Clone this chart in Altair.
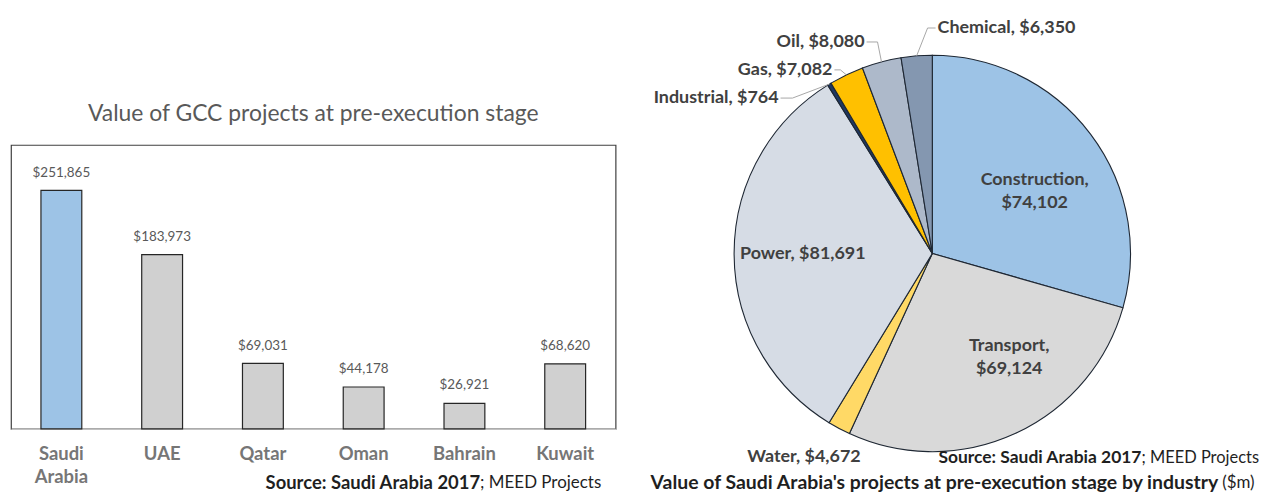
import math
import altair as alt
import pandas as pd

# ---------------- data ----------------
countries = ["Saudi Arabia", "UAE", "Qatar", "Oman", "Bahrain", "Kuwait"]
country_values = [251865, 183973, 69031, 44178, 26921, 68620]
country_value_labels = ["$251,865", "$183,973", "$69,031", "$44,178", "$26,921", "$68,620"]

industries = ["Construction", "Transport", "Water", "Power", "Industrial", "Gas", "Oil", "Chemical"]
industry_values = [74102, 69124, 4672, 81691, 764, 7082, 8080, 6350]
industry_labels = ["Construction,\n$74,102", "Transport,\n$69,124", "Water, $4,672",
                   "Power, $81,691", "Industrial, $764", "Gas, $7,082", "Oil, $8,080",
                   "Chemical, $6,350"]

bar_title = "Value of GCC projects at pre-execution stage"
pie_title_bold = "Value of Saudi Arabia's projects at pre-execution stage by industry"
pie_title_normal = "($m)"
source_bold = "Source: Saudi Arabia 2017"
source_normal = "; MEED Projects"

# ---------------- styles ----------------
FONT = "Lato"
BAR_COLORS = ["#9DC3E6", "#D0D0D0"]
PIE_COLORS = ["#9DC3E6", "#D9D9D9", "#FFD966", "#D6DCE5", "#1F3864", "#FFC000", "#ADB9CA", "#8497B0"]
LEFT_W, LEFT_H = 607, 285
RIGHT_W, RIGHT_H = 612, 285
CX, CY, R = 295, 109, 199
PIE_FONT = 18

one = pd.DataFrame({"k": [0]})


def note(x, y, text, align, weight, size, color="#1F1F1F"):
    return alt.Chart(one).mark_text(
        align=align, baseline="middle", fontSize=size, fontWeight=weight, color=color
    ).encode(x=alt.value(x), y=alt.value(y), text=alt.value(text))


# ---------------- bar chart ----------------
bar_df = pd.DataFrame({
    "country": countries,
    "value": country_values,
    "label": country_value_labels,
    "group": ["Saudi Arabia" if c == "Saudi Arabia" else "Other" for c in countries],
})

xenc = alt.X(
    "country:N", sort=countries,
    scale=alt.Scale(paddingInner=0, paddingOuter=0),
    axis=alt.Axis(title=None, labelExpr="split(datum.label, ' ')", labelAngle=0,
                  labelFontSize=18.5, labelFontWeight="bold", labelColor="#767676",
                  labelPadding=16, labelLineHeight=23, ticks=False,
                  domainColor="#D9D9D9", domainWidth=1),
)
yenc = alt.Y("value:Q", scale=alt.Scale(domain=[0, 300000]), axis=None)

bars = alt.Chart(bar_df).mark_bar(size=41, stroke="#262626", strokeWidth=1.2).encode(
    x=xenc, y=yenc,
    color=alt.Color("group:N", scale=alt.Scale(domain=["Saudi Arabia", "Other"], range=BAR_COLORS),
                    legend=None),
)
bar_text = alt.Chart(bar_df).mark_text(baseline="middle", dy=-18, fontSize=13.5, color="#595959").encode(
    x=xenc, y=yenc, text="label:N"
)

left = alt.layer(
    bars, bar_text,
    note(471, 339, source_bold, "right", "bold", 18.5),
    note(471, 339, source_normal, "left", "normal", 17),
).properties(
    width=LEFT_W, height=LEFT_H,
    view=alt.ViewBackground(stroke="#404040", strokeWidth=1.2),
    title=alt.TitleParams(bar_title, fontSize=23, fontWeight="normal", color="#595959",
                          anchor="middle", offset=19),
)

# ---------------- pie chart ----------------
total = sum(industry_values)
pie_df = pd.DataFrame({
    "industry": industries,
    "value": industry_values,
    "label": industry_labels,
    "order": list(range(len(industries))),
})
theta_scale = alt.Scale(domain=[0, total], range=[0, 2 * math.pi])

pie_base = alt.Chart(pie_df).transform_window(
    end="sum(value)", sort=[alt.SortField("order", order="ascending")], frame=[None, 0]
).transform_calculate(
    start="datum.end - datum.value"
).transform_calculate(
    mid="(datum.start + datum.end) / 2"
)

arcs = pie_base.mark_arc(outerRadius=R, stroke="#1E2733", strokeWidth=1.1).encode(
    theta=alt.Theta("start:Q", scale=theta_scale, stack=False),
    theta2="end:Q",
    color=alt.Color("industry:N", scale=alt.Scale(domain=industries, range=PIE_COLORS), legend=None),
    x=alt.value(CX), y=alt.value(CY),
)


def pie_label(name, radius, dx, dy, align="center"):
    return pie_base.transform_filter(alt.datum.industry == name).mark_text(
        radius=radius, dx=dx, dy=dy, align=align, baseline="middle", fontSize=PIE_FONT,
        fontWeight="bold", color="#404040", lineBreak="\n", lineHeight=23,
    ).encode(
        theta=alt.Theta("mid:Q", scale=theta_scale, stack=False),
        text="label:N", x=alt.value(CX), y=alt.value(CY),
    )


def leader(name, dx, dy, elbow, gap):
    base = pie_base.transform_filter(alt.datum.industry == name).transform_calculate(
        ang=f"datum.mid / {total} * 2 * PI"
    ).transform_calculate(
        ex=f"{CX} + {R} * sin(datum.ang)",
        ey=f"{CY} - {R} * cos(datum.ang)",
    ).transform_calculate(
        bx=f"datum.ex + {dx} + {elbow}",
        by=f"datum.ey + {dy}",
        sx=f"datum.ex + {dx} + {gap}",
    )
    seg1 = base.mark_rule(color="#A6A6A6", strokeWidth=1).encode(
        x=alt.X("sx:Q", scale=None, axis=None), x2="bx:Q",
        y=alt.Y("by:Q", scale=None, axis=None),
    )
    seg2 = base.mark_rule(color="#A6A6A6", strokeWidth=1).encode(
        x=alt.X("bx:Q", scale=None, axis=None), x2="ex:Q",
        y=alt.Y("by:Q", scale=None, axis=None), y2="ey:Q",
    )
    return [seg1, seg2]


layers = [arcs]
layers += leader("Industrial", -51, 14, 14, 2)
layers += leader("Gas", -14, -5, 8, 2)
layers += leader("Oil", -17, -20, 13, 2)
layers += leader("Chemical", 21, -28, -10, -2)
layers += [
    pie_label("Construction", 125, 3, 2),
    pie_label("Transport", 125, 25, -21),
    pie_label("Power", 125, -5, 0),
    pie_label("Water", 240, -16, -7),
    pie_label("Industrial", R, -51, 14, "right"),
    pie_label("Gas", R, -14, -5, "right"),
    pie_label("Oil", R, -17, -20, "right"),
    pie_label("Chemical", R, 21, -28, "left"),
    note(505, 314, source_bold, "right", "bold", 17.5),
    note(505, 314, source_normal, "left", "normal", 16.5),
    note(582, 339, pie_title_bold, "right", "bold", 19.5),
    note(586, 339, pie_title_normal, "left", "normal", 17),
]

right = alt.layer(*layers).properties(
    width=RIGHT_W, height=RIGHT_H,
    view=alt.ViewBackground(strokeWidth=0),
)

chart = alt.hconcat(left, right, spacing=23, bounds="flush").resolve_scale(
    color="independent"
).properties(
    padding={"left": 2, "top": 9.5, "right": 0, "bottom": 0}
).configure(font=FONT)

chart.save("out.html", embed_options={"renderer": "svg", "actions": False})
